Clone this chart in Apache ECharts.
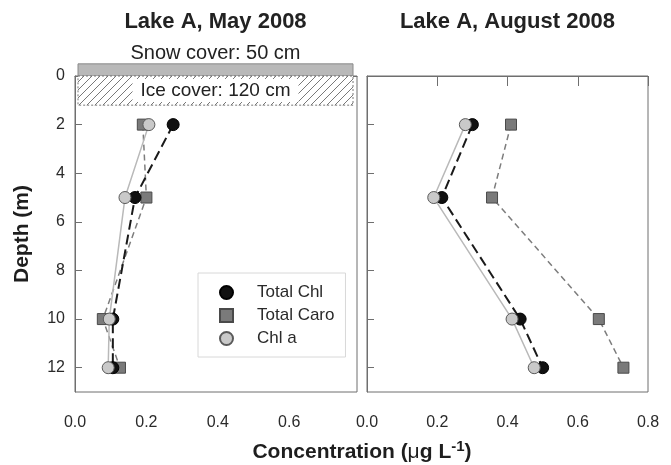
<!DOCTYPE html>
<html>
<head>
<meta charset="utf-8">
<title>Lake A pigment profiles, 2008</title>
<script src="https://cdn.jsdelivr.net/npm/echarts@6/dist/echarts.min.js"></script>
<style>
  html, body { margin: 0; padding: 0; background: #fff; }
  #chart { width: 671px; height: 465px; }
</style>
</head>
<body>
<div id="chart"></div>
<script>
// Sampling depths (m)
const depths = [2, 5, 10, 12];

// Pigment concentrations (µg L-1), May 2008 (under ice)
const mayTotalChl  = [0.275, 0.168, 0.106, 0.106];
const mayTotalCaro = [0.190, 0.200, 0.078, 0.126];
const mayChlA      = [0.207, 0.140, 0.096, 0.093];

// Pigment concentrations (µg L-1), August 2008 (open water)
const augTotalChl  = [0.300, 0.213, 0.436, 0.500];
const augTotalCaro = [0.410, 0.356, 0.660, 0.730];
const augChlA      = [0.280, 0.190, 0.413, 0.476];

// Axis ticks
const depthTicks = [0, 2, 4, 6, 8, 10, 12];
const mayConcTicks = [0, 0.2, 0.4, 0.6];
const augConcTicks = [0, 0.2, 0.4, 0.6, 0.8];

// Winter cover on the lake in May (cm)
const snowCoverCm = 50;
const iceCoverCm = 120;

const FONT = "'Liberation Sans', Arial, Helvetica, sans-serif";
const AXIS_GREY = '#6f6f6f';
const LABEL_COLOR = '#2a2a2a';
const SQUARE_ICON = 'path://M0,0L10,0L10,10L0,10Z';

const chart = echarts.init(document.getElementById('chart'), null, { renderer: 'canvas' });

const styles = {
  'Total Chl': {
    symbol: 'circle', size: 12,
    item: { color: '#111', borderColor: '#000', borderWidth: 1 },
    line: { color: '#1a1a1a', width: 2, type: [10, 5] }
  },
  'Total Caro': {
    symbol: 'rect', size: 11,
    item: { color: '#7a7a7a', borderColor: '#4a4a4a', borderWidth: 1 },
    line: { color: '#7d7d7d', width: 1.5, type: [6, 4] }
  },
  'Chl a': {
    symbol: 'circle', size: 12,
    item: { color: '#c9c9c9', borderColor: '#5a5a5a', borderWidth: 1 },
    line: { color: '#b9b9b9', width: 1.5, type: 'solid' }
  }
};

function profile(name, values, idx) {
  const s = styles[name];
  return {
    name: name,
    type: 'line',
    xAxisIndex: idx,
    yAxisIndex: idx,
    data: values.map((v, i) => [v, depths[i]]),
    symbol: s.symbol,
    symbolSize: s.size,
    showAllSymbol: true,
    lineStyle: s.line,
    itemStyle: s.item,
    emphasis: { disabled: true },
    animation: false
  };
}

function concAxis(idx, max, ticks) {
  return {
    type: 'value',
    gridIndex: idx,
    min: 0,
    max: max,
    interval: 0.2,
    position: 'bottom',
    axisLine: { show: true, lineStyle: { color: AXIS_GREY, width: 1 } },
    axisTick: { show: true, inside: false, length: 10, customValues: ticks,
                lineStyle: { color: AXIS_GREY } },
    axisLabel: { show: true, margin: 23, customValues: ticks,
                 formatter: v => v.toFixed(1),
                 color: LABEL_COLOR, fontSize: 16, fontFamily: FONT },
    splitLine: { show: false }
  };
}

function depthAxis(idx, showLabels) {
  return {
    type: 'value',
    gridIndex: idx,
    inverse: true,
    min: 0,
    max: 13,
    interval: 2,
    position: 'left',
    name: showLabels ? 'Depth (m)' : '',
    nameLocation: 'middle',
    nameGap: 42,
    nameRotate: 90,
    nameTextStyle: { fontSize: 21, fontWeight: 'bold', fontFamily: FONT, color: '#1e1e1e' },
    axisLine: { show: true, lineStyle: { color: AXIS_GREY, width: 1 } },
    axisTick: { show: true, inside: true, length: 7, customValues: depthTicks,
                lineStyle: { color: AXIS_GREY } },
    axisLabel: { show: showLabels, margin: 10, customValues: depthTicks,
                 color: LABEL_COLOR, fontSize: 16, fontFamily: FONT },
    splitLine: { show: false }
  };
}

const option = {
  backgroundColor: '#fff',
  animation: false,
  grid: [
    { left: 75, top: 76, width: 282, height: 316, show: true, borderColor: AXIS_GREY, borderWidth: 1, backgroundColor: 'transparent' },
    { left: 367, top: 76, width: 281, height: 316, show: true, borderColor: AXIS_GREY, borderWidth: 1, backgroundColor: 'transparent' }
  ],
  xAxis: [concAxis(0, 0.79, mayConcTicks), concAxis(1, 0.8, augConcTicks)],
  yAxis: [depthAxis(0, true), depthAxis(1, false)],
  legend: {
    orient: 'vertical',
    left: 198,
    top: 273,
    padding: [11, 11, 10, 21],
    itemWidth: 13,
    itemHeight: 13,
    itemGap: 6,
    borderColor: '#d8d8d8',
    borderWidth: 1,
    backgroundColor: '#fff',
    selectedMode: false,
    textStyle: { fontSize: 17, fontFamily: FONT, color: LABEL_COLOR, lineHeight: 16,
                 padding: [0, 0, 0, 19] },
    data: [
      { name: 'Total Chl', icon: 'circle' },
      { name: 'Total Caro', icon: SQUARE_ICON },
      { name: 'Chl a', icon: 'circle' }
    ]
  },
  series: [
    profile('Total Caro', mayTotalCaro, 0),
    profile('Total Chl', mayTotalChl, 0),
    profile('Chl a', mayChlA, 0),
    profile('Total Caro', augTotalCaro, 1),
    profile('Total Chl', augTotalChl, 1),
    profile('Chl a', augChlA, 1)
  ]
};

chart.setOption(option);

// Diagonal hatching used for the ice layer
function hatchPattern() {
  const c = document.createElement('canvas');
  const n = 8;
  c.width = n; c.height = n;
  const g = c.getContext('2d');
  g.fillStyle = '#fff';
  g.fillRect(0, 0, n, n);
  g.strokeStyle = '#6a6a6a';
  g.lineWidth = 0.9;
  g.beginPath();
  g.moveTo(0, n); g.lineTo(n, 0);
  g.moveTo(-2, 2); g.lineTo(2, -2);
  g.moveTo(n - 2, n + 2); g.lineTo(n + 2, n - 2);
  g.stroke();
  return c;
}

// Snow and ice layers, placed through the May panel's axes
function drawAnnotations() {
  const toPx = p => chart.convertToPixel({ gridIndex: 0 }, p);
  const inset = 3;
  const left = toPx([0, 0])[0] + inset;
  const right = toPx([0.79, 0])[0] - inset - 1;
  const surfaceY = toPx([0, 0])[1];
  const snowTop = toPx([0, -snowCoverCm / 100])[1];
  const iceBottom = toPx([0, iceCoverCm / 100])[1];
  const midX = (left + right) / 2;
  const augMid = (chart.convertToPixel({ gridIndex: 1 }, [0, 0])[0] +
                  chart.convertToPixel({ gridIndex: 1 }, [0.8, 0])[0]) / 2;

  chart.setOption({
    graphic: [
      {
        type: 'rect', z: 10, silent: true,
        shape: { x: left, y: snowTop, width: right - left, height: surfaceY - snowTop },
        style: { fill: '#b9b9b9', stroke: '#8a8a8a', lineWidth: 1 }
      },
      {
        type: 'rect', z: 10, silent: true,
        shape: { x: left, y: surfaceY, width: right - left, height: iceBottom - surfaceY },
        style: { fill: { image: hatchPattern(), repeat: 'repeat' }, stroke: '#777', lineWidth: 1, lineDash: [2, 2] }
      },
      {
        type: 'text', z: 11, silent: true,
        x: midX, y: (surfaceY + iceBottom) / 2,
        style: {
          text: 'Ice cover: ' + iceCoverCm + ' cm',
          align: 'center', verticalAlign: 'middle',
          font: '19px ' + FONT, fill: '#222',
          backgroundColor: '#fff', padding: [2, 8, 2, 8]
        }
      },
      {
        type: 'text', z: 11, silent: true,
        x: midX, y: snowTop,
        style: {
          text: 'Snow cover: ' + snowCoverCm + ' cm',
          align: 'center', verticalAlign: 'bottom',
          font: '20px ' + FONT, fill: '#222'
        }
      },
      {
        type: 'text', silent: true,
        x: midX, y: 22,
        style: { text: 'Lake A, May 2008', align: 'center', verticalAlign: 'middle',
                 font: 'bold 22px ' + FONT, fill: '#222' }
      },
      {
        type: 'text', silent: true,
        x: augMid, y: 22,
        style: { text: 'Lake A, August 2008', align: 'center', verticalAlign: 'middle',
                 font: 'bold 22px ' + FONT, fill: '#222' }
      },
      {
        type: 'text', silent: true,
        x: 362, y: 451,
        style: {
          text: '{t|Concentration (}{mu|μ}{t|g L}{sup|-1}{t|)}',
          align: 'center', verticalAlign: 'middle',
          rich: {
            t: { font: 'bold 21px ' + FONT, fill: '#1e1e1e', verticalAlign: 'bottom' },
            mu: { font: '21px ' + FONT, fill: '#1e1e1e', verticalAlign: 'bottom' },
            sup: { font: 'bold 15px ' + FONT, fill: '#1e1e1e', verticalAlign: 'top', padding: [0, 0, 8, 0] }
          }
        }
      }
    ]
  });
}

drawAnnotations();
</script>
</body>
</html>
